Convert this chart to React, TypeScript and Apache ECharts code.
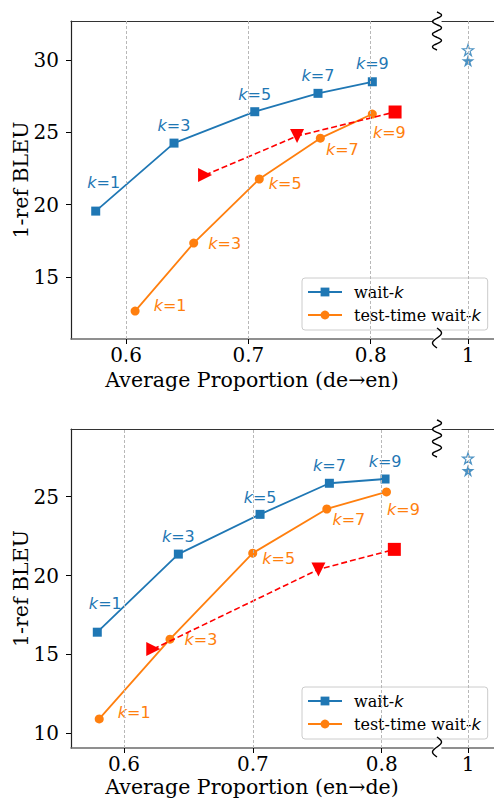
import React, { useEffect, useRef } from 'react';
import * as echarts from 'echarts';

// ---------- data ----------
const kValues = [1, 3, 5, 7, 9];

// de→en panel
const deEnWaitKX = [0.5752, 0.6392, 0.7052, 0.7569, 0.8013];
const deEnWaitKY = [19.56, 24.26, 26.43, 27.7, 28.5];
const deEnTestX = [0.6074, 0.6553, 0.7089, 0.7588, 0.8013];
const deEnTestY = [12.65, 17.35, 21.78, 24.6, 26.27];
const deEnRedX = [0.6646, 0.7398, 0.8199];
const deEnRedY = [22.05, 24.75, 26.41];
const deEnFullFilled = [29.95];
const deEnFullHollow = [30.69];

// en→de panel
const enDeWaitKX = [0.5793, 0.6422, 0.7056, 0.7594, 0.8026];
const enDeWaitKY = [16.41, 21.36, 23.88, 25.85, 26.12];
const enDeTestX = [0.5808, 0.6357, 0.6999, 0.7574, 0.8037];
const enDeTestY = [10.91, 15.97, 21.42, 24.22, 25.3];
const enDeRedX = [0.6227, 0.7509, 0.8098];
const enDeRedY = [15.34, 20.39, 21.66];
const enDeFullFilled = [26.65];
const enDeFullHollow = [27.43];

const fullX = [1];
const xTicks = [0.6, 0.7, 0.8];
const deEnYTicks = [15, 20, 25, 30];
const enDeYTicks = [10, 15, 20, 25];
const seriesNames = ['wait-k', 'test-time wait-k'];
const xNames = ['Average Proportion (de→en)', 'Average Proportion (en→de)'];
const yName = '1-ref BLEU';

// ---------- styles ----------
const BLUE = '#1f77b4';
const ORANGE = '#ff7f0e';
const RED = '#ff0000';
const SERIF = 'DejaVu Serif';
const SANS = 'DejaVu Sans';
const blueOffsets = [[8, -29], [0, -18], [0, -17], [0, -18], [0, -18]];
const orangeOffsets = [[35, -6], [31, 0], [26, 5], [22, 11], [17, 18]];
const redSymbols = ['triangle', 'triangle', 'rect'];
const redRotations = [-90, 180, 0];
const redSizes = [14, 14, 13];
const STAR =
  'path://M50,0 L61.2,34.5 L97.6,34.5 L68.2,55.9 L79.4,90.5 L50,69.1 L20.6,90.5 L31.8,55.9 L2.4,34.5 L38.8,34.5 Z';

const panels = [
  {
    waitX: deEnWaitKX, waitY: deEnWaitKY, testX: deEnTestX, testY: deEnTestY,
    redX: deEnRedX, redY: deEnRedY, filled: deEnFullFilled, hollow: deEnFullHollow,
    yTicks: deEnYTicks, xName: xNames[0], nameGap: 30.5,
    top: 21, height: 318, xMin: 0.555, xMax: 0.8509, yMin: 10.72, yMax: 32.7, legendTop: 278,
    sq: [[12, 50, 3], [328, 348, 1]],
  },
  {
    waitX: enDeWaitKX, waitY: enDeWaitKY, testX: enDeTestX, testY: enDeTestY,
    redX: enDeRedX, redY: enDeRedY, filled: enDeFullFilled, hollow: enDeFullHollow,
    yTicks: enDeYTicks, xName: xNames[1], nameGap: 28.5,
    top: 429, height: 319, xMin: 0.5589, xMax: 0.8398, yMin: 9.07, yMax: 29.29, legendTop: 687,
    sq: [[420, 457, 3], [737, 757, 1]],
  },
];

const zip = (xs: number[], ys: number[]) => xs.map((x, i) => [x, ys[i]]);

function squiggle(cx: number, y0: number, y1: number, periods: number) {
  const n = periods * 12;
  const pts: number[][] = [];
  for (let i = 0; i <= n; i++) {
    const t = i / n;
    pts.push([cx + 4.5 * Math.sin(t * periods * 2 * Math.PI), y0 + t * (y1 - y0)]);
  }
  return {
    type: 'polyline',
    shape: { points: pts, smooth: 0.3 },
    style: { stroke: '#000', fill: 'none', lineWidth: 1.4 },
    z: 100,
  };
}

function kRich(color: string) {
  return {
    k: { fontFamily: SANS, fontStyle: 'italic', fontSize: 16, color },
    t: { fontFamily: SANS, fontSize: 16, color },
  };
}

function buildOption() {
  const grid: any[] = [];
  const xAxis: any[] = [];
  const yAxis: any[] = [];
  const series: any[] = [];
  const legend: any[] = [];
  const graphic: any[] = [];
  const topSpines: any[] = [];

  panels.forEach((p, pi) => {
    const gm = pi * 2;
    const gr = pi * 2 + 1;
    grid.push({ left: 71, top: p.top, width: 362, height: p.height, containLabel: false, outerBoundsMode: 'none' });
    grid.push({ left: 442, top: p.top, width: 52, height: p.height, containLabel: false, outerBoundsMode: 'none' });

    const bottomAxis = (gi: number, min: number, max: number, ticks: number[], name: string) => ({
      type: 'value', gridIndex: gi, position: 'bottom', min, max,
      name, nameLocation: 'middle', nameGap: p.nameGap, nameMoveOverlap: false,
      nameTextStyle: { fontFamily: SERIF, fontSize: 20.5, color: '#000' },
      axisLine: { show: true, onZero: false, lineStyle: { color: '#6b6b6b', width: 1.6 } },
      axisTick: { show: true, length: 5, inside: false, customValues: ticks, lineStyle: { color: '#000', width: 1 } },
      axisLabel: {
        show: true, customValues: ticks, margin: 6,
        fontFamily: SERIF, fontSize: 20, color: '#000',
        formatter: (v: number) => String(v),
      },
      splitLine: { show: false },
    });
    xAxis[gm] = bottomAxis(gm, p.xMin, p.xMax, xTicks, p.xName);
    xAxis[gr] = bottomAxis(gr, 0.95, 1.05, fullX, '');

    [gm, gr].forEach((gi) => {
      topSpines.push({
        type: 'value', gridIndex: gi, position: 'top',
        min: gi === gm ? p.xMin : 0.95, max: gi === gm ? p.xMax : 1.05,
        axisLine: { show: true, onZero: false, lineStyle: { color: '#333', width: 1.2 } },
        axisTick: { show: false }, axisLabel: { show: false }, splitLine: { show: false },
      });
    });

    yAxis[gm] = {
      type: 'value', gridIndex: gm, min: p.yMin, max: p.yMax,
      name: yName, nameLocation: 'middle', nameGap: 40, nameMoveOverlap: false,
      nameTextStyle: { fontFamily: SERIF, fontSize: 20.5, color: '#000' },
      axisLine: { show: true, onZero: false, lineStyle: { color: '#222', width: 1.2 } },
      axisTick: { show: true, length: 5, inside: false, customValues: p.yTicks, lineStyle: { color: '#000', width: 1 } },
      axisLabel: { show: true, customValues: p.yTicks, margin: 12, fontFamily: SERIF, fontSize: 20, color: '#000' },
      splitLine: { show: false },
    };
    yAxis[gr] = { type: 'value', gridIndex: gr, min: p.yMin, max: p.yMax, show: false };

    const gridLine = (gi: number, values: number[]) => ({
      type: 'line', xAxisIndex: gi, yAxisIndex: gi, data: [], silent: true, z: 1,
      markLine: {
        symbol: ['none', 'none'], silent: true, label: { show: false },
        lineStyle: { color: '#b8b8b8', type: [3, 2], width: 1 },
        data: values.map((v) => ({ xAxis: v })),
      },
    });
    series.push(gridLine(gm, xTicks));
    series.push(gridLine(gr, fullX));

    series.push({
      name: seriesNames[0], type: 'line', xAxisIndex: gm, yAxisIndex: gm, z: 3,
      data: zip(p.waitX, p.waitY).map((v, i) => ({ value: v, label: { offset: blueOffsets[i] } })),
      symbol: 'rect', symbolSize: 9, showSymbol: true,
      lineStyle: { color: BLUE, width: 1.8 }, itemStyle: { color: BLUE },
      label: {
        show: true, position: 'inside',
        formatter: (pa: any) => `{k|k}{t|=${kValues[pa.dataIndex]}}`,
        rich: kRich(BLUE),
      },
    });
    series.push({
      name: seriesNames[1], type: 'line', xAxisIndex: gm, yAxisIndex: gm, z: 3,
      data: zip(p.testX, p.testY).map((v, i) => ({ value: v, label: { offset: orangeOffsets[i] } })),
      symbol: 'circle', symbolSize: 9, showSymbol: true,
      lineStyle: { color: ORANGE, width: 1.8 }, itemStyle: { color: ORANGE },
      label: {
        show: true, position: 'inside',
        formatter: (pa: any) => `{k|k}{t|=${kValues[pa.dataIndex]}}`,
        rich: kRich(ORANGE),
      },
    });
    series.push({
      name: 'adaptive', type: 'line', xAxisIndex: gm, yAxisIndex: gm, z: 4,
      data: zip(p.redX, p.redY).map((v, i) => ({
        value: v, symbol: redSymbols[i], symbolRotate: redRotations[i], symbolSize: redSizes[i],
      })),
      showSymbol: true,
      lineStyle: { color: RED, width: 1.6, type: [6, 3] }, itemStyle: { color: RED },
    });
    series.push({
      name: 'full-sentence (test-time)', type: 'scatter', xAxisIndex: gr, yAxisIndex: gr, z: 3,
      data: zip(fullX, p.hollow), symbol: STAR, symbolSize: 11,
      itemStyle: { color: '#ffffff', borderColor: BLUE, borderWidth: 1.2 },
    });
    series.push({
      name: 'full-sentence', type: 'scatter', xAxisIndex: gr, yAxisIndex: gr, z: 4,
      data: zip(fullX, p.filled), symbol: STAR, symbolSize: 13,
      itemStyle: { color: BLUE },
    });

    legend.push({
      show: true, orient: 'vertical', left: 302, top: p.legendTop,
      data: seriesNames, selectedMode: false,
      itemWidth: 34, itemHeight: 11, itemGap: 3,
      padding: [4, 7, 5, 5],
      backgroundColor: 'rgba(255,255,255,0.8)', borderColor: '#cccccc', borderWidth: 1, borderRadius: 3,
      formatter: (name: string) => name.replace('-k', '-{k|k}'),
      textStyle: {
        fontFamily: SERIF, fontSize: 16, color: '#000', lineHeight: 20, padding: [0, 0, 0, 7],
        rich: { k: { fontFamily: SANS, fontStyle: 'italic', fontSize: 16, color: '#000', lineHeight: 20 } },
      },
    });

    p.sq.forEach(([y0, y1, per]) => graphic.push(squiggle(437, y0, y1, per)));
  });

  return {
    animation: false,
    backgroundColor: '#ffffff',
    grid,
    xAxis: [...xAxis, ...topSpines],
    yAxis,
    legend,
    series,
    graphic,
  };
}

export default function App() {
  const ref = useRef<HTMLDivElement>(null);
  useEffect(() => {
    if (!ref.current) return;
    const chart = echarts.init(ref.current, undefined, { renderer: 'svg' });
    chart.setOption(buildOption() as any);
    return () => chart.dispose();
  }, []);
  return (
    <div
      ref={ref}
      style={{ position: 'absolute', left: 0, top: 0, width: 494, height: 798, background: '#fff' }}
    />
  );
}
